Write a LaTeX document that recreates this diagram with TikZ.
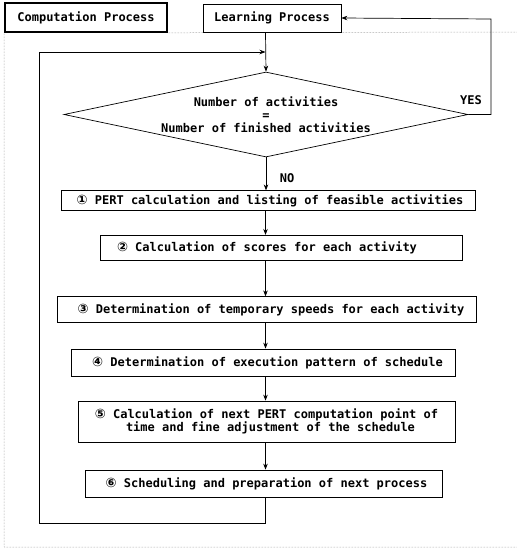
\documentclass[tikz,border=0pt]{standalone}
\usepackage{fontspec}
\usetikzlibrary{shapes.geometric,arrows.meta}
\newfontfamily\monof{DejaVu Sans Mono}
\newfontfamily\symf{DejaVu Sans}
\newcommand{\cn}[1]{{\symf\bfseries\fontsize{13}{13}\selectfont #1}}
\begin{document}
\begin{tikzpicture}[x=1pt,y=-1pt,
  font=\monof\bfseries\fontsize{12}{13}\selectfont,
  box/.style={draw,fill=white,line width=0.7pt,inner sep=0pt,align=center},
  arr/.style={line width=0.7pt,-{Stealth[length=6pt,width=4.5pt]}},
  ln/.style={line width=0.7pt},
  frame/.style={densely dotted,gray,line width=0.5pt}]
\useasboundingbox (0,0) rectangle (517,549);
% frame
\coordinate (fbl) at (4,547);
\coordinate (fbr) at (517,547);
\coordinate (ftr) at (517,32);
\node[box,line width=1.6pt,minimum width=162,minimum height=29] (C) at (86,17.5) {Computation Process};
\draw[frame] (C.south west) -- (fbl) -- (fbr);
\draw[frame] (C.south east) -- (ftr);
\node[box,minimum width=138,minimum height=28] (L) at (272,18) {Learning Process};
% decision
\node[draw,ln,shape=diamond,aspect=4.75,inner sep=0pt,minimum width=404,minimum height=85,align=center] (d) at (266,114.5)
  {Number of activities\\=\\Number of finished activities};
% boxes
\node[box,minimum width=414,minimum height=19.5] (b1) at (268,200.5) {\cn{①} PERT calculation and listing of feasible activities\hspace*{-4pt}};
\node[box,minimum width=362,minimum height=25.5] (b2) at (281,248) {\cn{②} Calculation of scores for each activity\hspace*{28pt}};
\node[box,minimum width=419,minimum height=25.5] (b3) at (266.5,309.5) {\cn{③} Determination of temporary speeds for each activity\hspace*{-9pt}};
\node[box,minimum width=384,minimum height=27] (b4) at (263,362.5) {\cn{④} Determination of execution pattern of schedule\hspace*{-9pt}};
\node[box,minimum width=377,minimum height=41] (b5) at (266.5,421.5) {\cn{⑤} Calculation of next PERT computation point of\\time and fine adjustment of the schedule\hspace*{-8pt}};
\node[box,minimum width=357,minimum height=27] (b6) at (263.5,483.5) {\cn{⑥} Scheduling and preparation of next process\hspace*{-6pt}};
% labels
\node[inner sep=0pt] (yes) at (471,100) {YES};
\node[inner sep=0pt] (no) at (287,178) {NO};
% connectors
\coordinate (j) at (265.5,52);
\coordinate (cl) at (39,523);
\coordinate (ct) at (39,52);
\coordinate (cr) at (491,19);
\draw[arr] (L.south -| j) -- (d.north);
\draw[arr] (b6.south -| j) -- (j |- cl) -- (cl) -- (ct) -- (j);
\draw[arr] (d.east) -| (cr) -- (L.east);
\draw[arr] (d.south) -- (d.south |- b1.north);
\draw[arr] (b1.south -| j) -- (j |- b2.north);
\draw[arr] (b2.south -| j) -- (j |- b3.north);
\draw[arr] (b3.south -| j) -- (j |- b4.north);
\draw[arr] (b4.south -| j) -- (j |- b5.north);
\draw[arr] (b5.south -| j) -- (j |- b6.north);
\end{tikzpicture}
\end{document}
